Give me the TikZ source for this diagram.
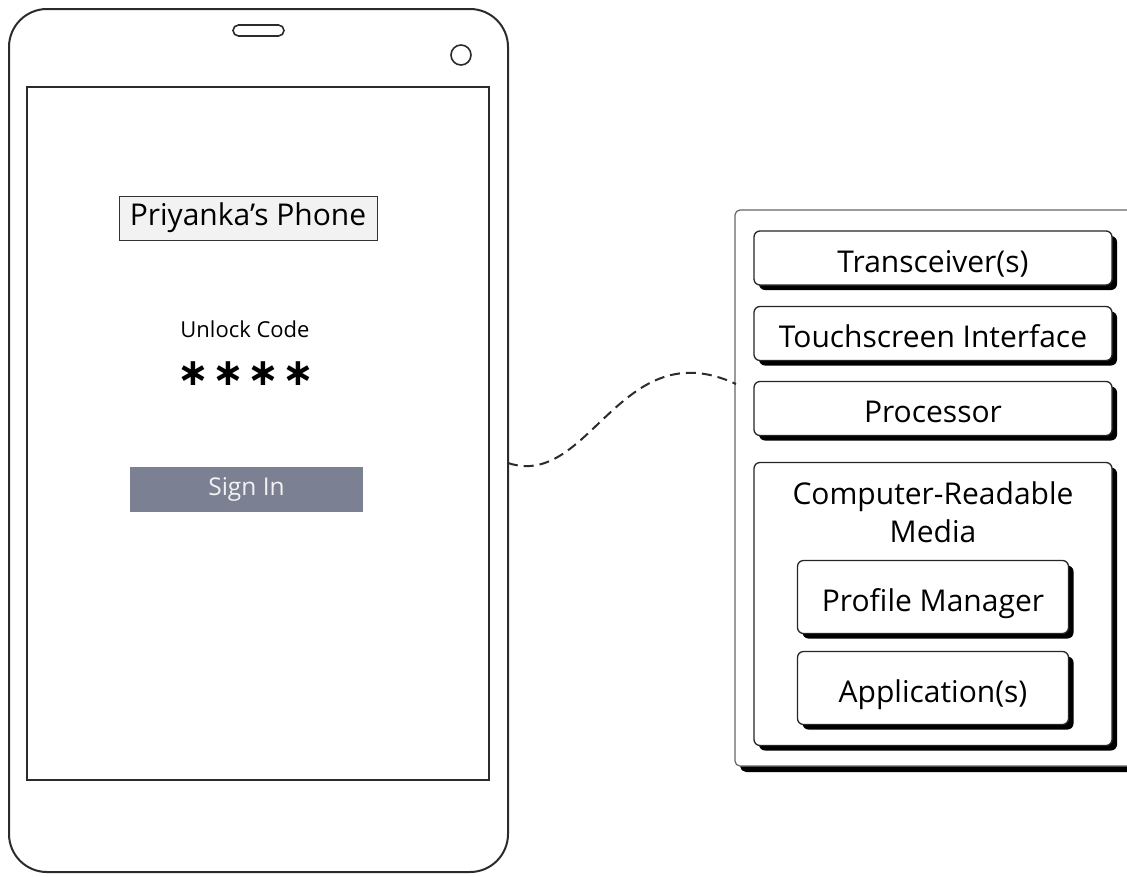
\documentclass[tikz,border=0pt]{standalone}
\usepackage{fontspec}
\setmainfont{Open Sans}
\newfontfamily\symfont{DejaVu Sans}
\usetikzlibrary{shadows}
\definecolor{edge}{HTML}{2B2B2B}
\definecolor{btn}{HTML}{7B8093}
\definecolor{btntext}{HTML}{F2F2F2}
\definecolor{namefill}{HTML}{F2F2F2}
\begin{document}
\begin{tikzpicture}[x=1pt,y=-1pt,
  phonebody/.style={draw=edge, line width=2pt, rounded corners=38pt, inner sep=0pt},
  screenbox/.style={draw=edge, line width=1.8pt, inner sep=0pt},
  shbox/.style={draw=black!85, line width=1.3pt, fill=white, rounded corners=6pt, inner sep=0pt,
    drop shadow={shadow xshift=5pt, shadow yshift=-5pt, opacity=1, fill=black}},
  lbl/.style={font=\fontsize{30}{38}\selectfont, text height=34pt, text depth=6pt},
  link/.style={draw=edge, line width=2pt, dash pattern=on 10pt off 6pt}
]
\clip (0,0) rectangle (1127,876);
% phone
\node[phonebody, minimum width=499pt, minimum height=863pt] (phone) at (258.5,440.5) {};
\node[draw=edge, line width=1.6pt, rounded corners=5.5pt, minimum width=51pt, minimum height=11pt, inner sep=0pt] (speaker) at (258.5,30.5) {};
\node[draw=edge, line width=1.6pt, circle, minimum size=20pt, inner sep=0pt] (camera) at (461,55) {};
\node[screenbox, minimum width=462pt, minimum height=693pt] (screen) at (258,433.5) {};
\node[draw=black!80, line width=1pt, fill=namefill, minimum width=258pt, minimum height=44pt, inner sep=0pt, font=\fontsize{30}{36}\selectfont] (name) at (248,218) {Priyanka’s Phone};
\node[font=\fontsize{22}{26}\selectfont] (unlock) at (245,329) {Unlock Code};
\node[font=\symfont\fontsize{38}{44}\selectfont\bfseries] (code) at (246,374) {∗\hspace{3pt}∗\hspace{3pt}∗\hspace{3pt}∗};
\node[fill=btn, minimum width=233pt, minimum height=45pt, inner sep=0pt, text=btntext, font=\fontsize{24.5}{29}\selectfont] (signin) at (246.5,489.5) {Sign In};
% panel
\node[shbox, draw=black!60, line width=1.2pt, rounded corners=5pt, minimum width=405pt, minimum height=556pt,
  drop shadow={shadow xshift=6pt, shadow yshift=-6pt, opacity=1, fill=black}] (panel) at (937.5,488) {};
\node[shbox, lbl, minimum width=358pt, minimum height=54pt] (trx) at (933,258) {Transceiver(s)};
\node[shbox, lbl, minimum width=358pt, minimum height=54pt] (touch) at (933,333.5) {Touchscreen Interface};
\node[shbox, lbl, minimum width=358pt, minimum height=54pt] (proc) at (933,408.5) {Processor};
\node[shbox, minimum width=358pt, minimum height=283pt] (crm) at (933,604) {};
\node[font=\fontsize{30}{38}\selectfont, align=center] (crmtext) at (933,512) {Computer-Readable\\Media};
\node[shbox, lbl, minimum width=271pt, minimum height=73pt] (prof) at (933,597) {Profile Manager};
\node[shbox, lbl, minimum width=271pt, minimum height=73pt] (app) at (933,688) {Application(s)};
% connector
\coordinate (c1) at (508,463);
\coordinate (c2) at (736,384);
\draw[link] (c1) .. controls (590,490) and (620,330) .. (c2);
\end{tikzpicture}
\end{document}
